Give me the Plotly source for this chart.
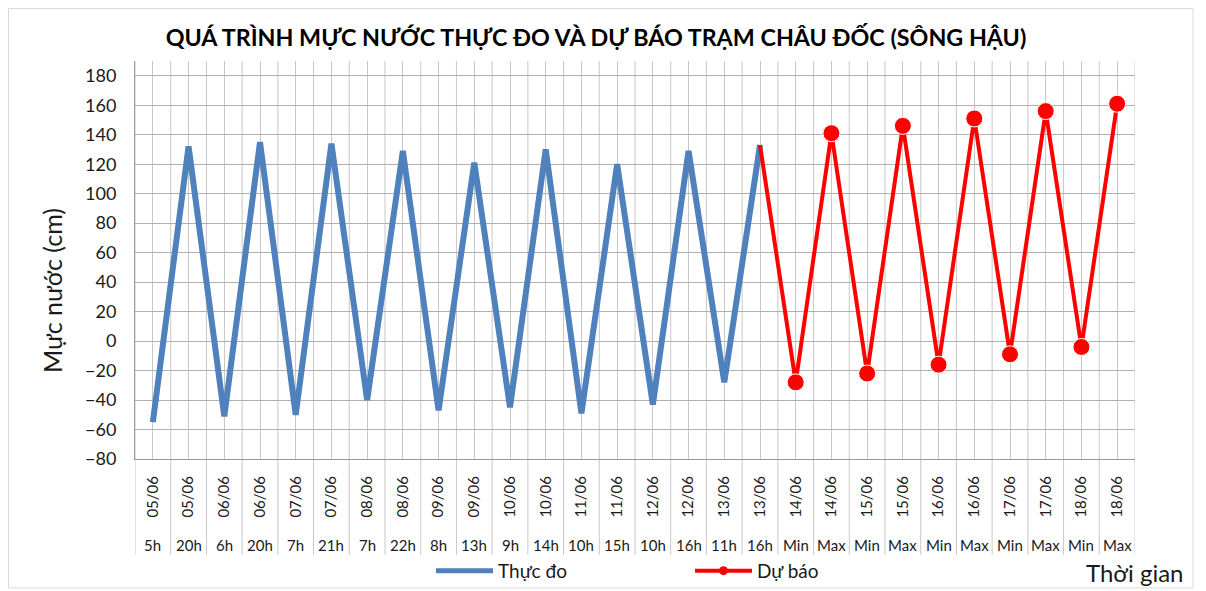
import plotly.graph_objects as go

dates = ["05/06", "05/06", "06/06", "06/06", "07/06", "07/06", "08/06", "08/06",
         "09/06", "09/06", "10/06", "10/06", "11/06", "11/06", "12/06", "12/06",
         "13/06", "13/06", "14/06", "14/06", "15/06", "15/06", "16/06", "16/06",
         "17/06", "17/06", "18/06", "18/06"]
times = ["5h", "20h", "6h", "20h", "7h", "21h", "7h", "22h", "8h", "13h", "9h", "14h",
         "10h", "15h", "10h", "16h", "11h", "16h", "Min", "Max", "Min", "Max",
         "Min", "Max", "Min", "Max", "Min", "Max"]

thuc_do = [-55, 132, -51, 135, -50, 134, -40, 129, -47, 121, -45, 130,
           -49, 120, -43, 129, -28, 133]
du_bao = [-28, 141, -22, 146, -16, 151, -9, 156, -4, 161]

n_obs = len(thuc_do)
n = len(dates)
xs = list(range(n))

FONT = "Lato, 'Open Sans', sans-serif"
BLUE = "#4F81BD"
RED = "#FF0000"
TXT = "#1a1a1a"

x_obs = xs[:n_obs]
x_fc = xs[n_obs - 1:]
y_fc = [thuc_do[-1]] + du_bao

fig = go.Figure()
fig.add_trace(go.Scatter(x=x_obs, y=thuc_do, mode="lines",
                         line=dict(color=BLUE, width=6), showlegend=False,
                         hoverinfo="skip"))
fig.add_trace(go.Scatter(x=x_fc, y=y_fc, mode="lines+markers",
                         line=dict(color=RED, width=4),
                         marker=dict(color=RED, size=[0] + [17] * len(du_bao), opacity=1),
                         showlegend=False))
# legend entries
fig.add_trace(go.Scatter(x=[None], y=[None], mode="lines", name="Thực đo",
                         line=dict(color=BLUE, width=5)))
fig.add_trace(go.Scatter(x=[None], y=[None], mode="lines+markers", name="Dự báo",
                         line=dict(color=RED, width=4), marker=dict(color=RED, size=9)))

shapes = []
for i in range(n + 1):
    shapes.append(dict(type="line", xref="x", yref="paper",
                       x0=i - 0.5, x1=i - 0.5, y0=-0.241, y1=1,
                       line=dict(color="#c8c8c8", width=1), layer="below"))
shapes.append(dict(type="rect", xref="paper", yref="paper",
                   x0=-0.1265, x1=1.058, y0=-0.324, y1=1.132,
                   line=dict(color="#d9d9d9", width=1)))

annotations = [
    dict(text="Mực nước (cm)", xref="paper", yref="paper", x=-0.083, y=0.422,
         textangle=-90, showarrow=False, font=dict(size=25, color=TXT),
         xanchor="center", yanchor="middle"),
    dict(text="Thời gian", xref="paper", yref="paper", x=1.0, y=-0.284,
         showarrow=False, font=dict(size=24, color=TXT),
         xanchor="center", yanchor="middle"),
]
for xi, t in zip(xs, times):
    annotations.append(dict(text=t, xref="x", yref="paper", x=xi, y=-0.216,
                            showarrow=False, font=dict(size=15, color=TXT),
                            xanchor="center", yanchor="middle"))

# page body has an 8px margin, so the figure is sized 8px smaller
fig.update_layout(
    width=1198, height=583,
    margin=dict(l=127, r=71, t=53, b=132, autoexpand=False),
    paper_bgcolor="white", plot_bgcolor="white",
    font=dict(family=FONT, size=15, color=TXT),
    title=dict(text="<b>QUÁ TRÌNH MỰC NƯỚC THỰC ĐO VÀ DỰ BÁO TRẠM CHÂU ĐỐC (SÔNG HẬU)</b>",
               x=0.4908, xanchor="center", y=0.9485, yanchor="middle",
               font=dict(family=FONT, size=23.3, color="#000000")),
    xaxis=dict(range=[-0.5, n - 0.5], tickmode="array", tickvals=xs, ticktext=dates,
               tickangle=-90, showgrid=True, gridcolor="#c8c8c8", gridwidth=1,
               zeroline=False, showline=True, linecolor="#999999", ticks="",
               ticklabelstandoff=10, tickfont=dict(size=15)),
    yaxis=dict(range=[-80, 190], tick0=-80, dtick=20, showgrid=True,
               gridcolor="#b0b0b0", gridwidth=1, zeroline=False,
               showline=True, linecolor="#999999", ticks="",
               ticklabelstandoff=14, tickfont=dict(size=18)),
    legend=dict(orientation="h", x=0.296, xanchor="left", y=-0.281, yanchor="middle",
                bgcolor="rgba(0,0,0,0)",
                font=dict(size=19), itemwidth=57, entrywidth=187, entrywidthmode="pixels"),
    shapes=shapes,
    annotations=annotations,
)

fig.write_html("out.html")
